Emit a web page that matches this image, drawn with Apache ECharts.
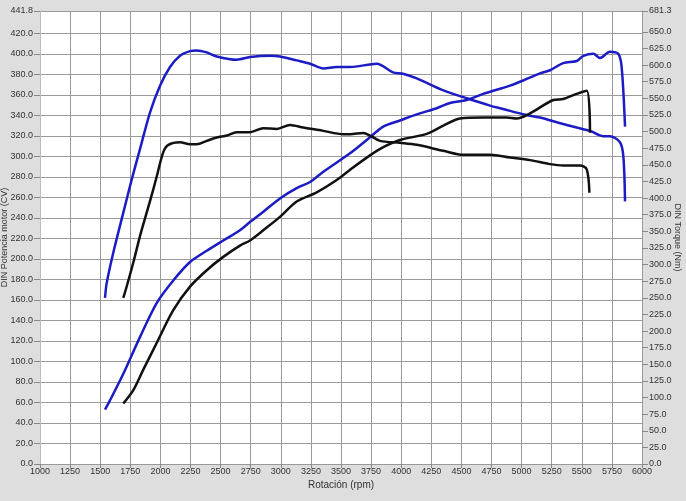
<!DOCTYPE html>
<html><head><meta charset="utf-8">
<script src="https://cdn.jsdelivr.net/npm/echarts@6/dist/echarts.min.js"></script>
<style>html,body{margin:0;padding:0;background:#dedede}#c{width:686px;height:501px}</style>
</head><body><div id="c"></div>
<script>
// X ticks
const xTicks = [1000,1250,1500,1750,2000,2250,2500,2750,3000,3250,3500,3750,4000,4250,4500,4750,5000,5250,5500,5750,6000];
const leftTicks = [0,20,40,60,80,100,120,140,160,180,200,220,240,260,280,300,320,340,360,380,400,420,441.8];
const rightTicks = [0,25,50,75,100,125,150,175,200,225,250,275,300,325,350,375,400,425,450,475,500,525,550,575,600,625,650,681.3];

// Blue torque (Nm)
const blueTqRpm = [1540,1554,1609,1692,1762,1831,1914,1997,2080,2163,2246,2302,2385,2468,2634,2744,2910,2993,3132,3243,3353,3464,3575,3797,3932,4015,4129,4350,4544,4738,4846,5012,5153,5292,5458,5568,5679,5734,5817,5845,5859];
const blueTq    = [250,272,318,378,428,474,529,569,597,614,621,622,619,613,608,612,614,613,607,602,595,597,597,602,589,587,580,562,550,539,534,526,521,514,506,501,493,493,484,463,395];
// Blue power (CV)
const bluePwRpm = [1540,1581,1692,1831,1969,2107,2246,2385,2522,2661,2744,2855,2993,3132,3243,3353,3575,3714,3851,3990,4129,4295,4405,4544,4682,4793,4904,5014,5153,5236,5346,5458,5513,5596,5651,5734,5803,5831,5859];
const bluePw    = [53,62,88,124,157,179,197,208,218,228,236,246,259,269,275,285,303,316,329,335,341,347,352,355,361,365,369,374,381,384,391,393,398,400,396,402,400,387,329];
// Black torque (Nm)
const blackTqRpm = [1692,1720,1775,1831,1886,1941,1969,2024,2066,2163,2246,2302,2385,2468,2551,2634,2744,2855,2966,3077,3187,3353,3519,3575,3685,3741,3824,3990,4129,4350,4516,4738,4904,5070,5236,5346,5485,5541,5563];
const blackTq    = [250,267,303,343,378,413,432,469,480,484,481,481,486,491,494,499,499,505,504,510,506,501,496,496,498,494,486,483,480,471,465,465,461,457,451,449,449,443,408];
// Black power (CV)
const blackPwRpm = [1692,1775,1858,1969,2107,2246,2385,2522,2661,2744,2855,2993,3132,3298,3464,3575,3741,3851,3990,4212,4350,4488,4682,4876,4959,5070,5264,5346,5458,5541,5568];
const blackPw    = [59,72,92,118,150,173,189,202,213,218,228,241,256,265,277,287,301,309,316,322,330,337,338,338,337,342,355,356,361,364,323];

const zip = (a,b) => a.map((v,i)=>[v,b[i]]);
const font = 'Liberation Sans';
const lbl = {color:'#333', fontSize:9, fontFamily:font};
const chart = echarts.init(document.getElementById('c'), null, {renderer:'canvas'});
chart.setOption({
  backgroundColor:'#dedede',
  animation:false,
  grid:{left:40,right:44,top:11,bottom:37,containLabel:false,outerBoundsMode:'none',show:true,backgroundColor:'#ffffff',borderWidth:0},
  xAxis:{type:'value',min:1000,max:6000,interval:250,
    name:'Rotación (rpm)',nameLocation:'middle',nameGap:16,nameMoveOverlap:false,nameTextStyle:{color:'#333',fontSize:10,fontFamily:font},
    axisLine:{show:true,lineStyle:{color:'#999'}},
    axisTick:{show:true,length:4,inside:false,lineStyle:{color:'#888'}},
    axisLabel:Object.assign({margin:3,formatter:v=>String(v)},lbl),
    splitLine:{show:true,lineStyle:{color:'#9a9a9a',width:1}}},
  yAxis:[{type:'value',min:0,max:441.8,position:'left',
    name:'DIN Potencia motor (CV)',nameLocation:'middle',nameGap:31,nameMoveOverlap:false,nameRotate:90,nameTextStyle:{color:'#333',fontSize:9,fontFamily:font},
    axisLine:{show:true,lineStyle:{color:'#bbb'}},
    axisTick:{show:true,length:6,inside:false,customValues:leftTicks,lineStyle:{color:'#888'}},
    axisLabel:Object.assign({margin:7,inside:false,customValues:leftTicks,formatter:v=>v.toFixed(1)},lbl),
    splitLine:{show:true,lineStyle:{color:'#9a9a9a',width:1}}},
   {type:'value',min:0,max:681.3,position:'right',
    name:'DIN Torque (Nm)',nameLocation:'middle',nameGap:31,nameMoveOverlap:false,nameRotate:-90,nameTextStyle:{color:'#333',fontSize:9,fontFamily:font},
    axisLine:{show:true,lineStyle:{color:'#999'}},
    axisTick:{show:true,length:6,inside:false,customValues:rightTicks,lineStyle:{color:'#888'}},
    axisLabel:Object.assign({margin:7,inside:false,customValues:rightTicks,formatter:v=>v.toFixed(1)},lbl),
    splitLine:{show:false}}],
  series:[
    {type:'line',yAxisIndex:1,data:zip(blueTqRpm,blueTq),showSymbol:false,smooth:0.3,lineStyle:{color:'#1c1cc4',width:2.5}},
    {type:'line',yAxisIndex:0,data:zip(bluePwRpm,bluePw),showSymbol:false,smooth:0.3,lineStyle:{color:'#1c1cc4',width:2.5}},
    {type:'line',yAxisIndex:1,data:zip(blackTqRpm,blackTq),showSymbol:false,smooth:0.3,lineStyle:{color:'#111111',width:2.5}},
    {type:'line',yAxisIndex:0,data:zip(blackPwRpm,blackPw),showSymbol:false,smooth:0.3,lineStyle:{color:'#111111',width:2.5}}
  ]
});
</script></body></html>
